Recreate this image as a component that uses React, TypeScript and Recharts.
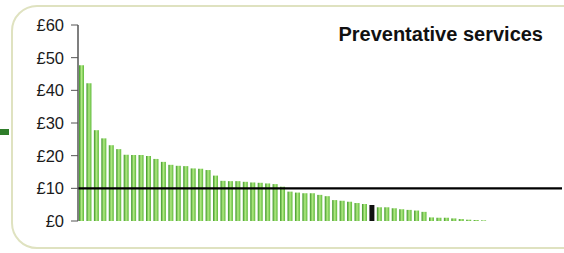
import React from 'react';
import { BarChart, Bar, XAxis, YAxis, ReferenceLine, Cell } from 'recharts';

const values: number[] = [
  47.7, 42.2, 27.8, 25.3, 23.2, 22.0, 20.3, 20.2, 20.2, 19.9,
  19.0, 18.1, 17.2, 16.9, 16.8, 16.1, 16.0, 15.6, 13.9, 12.3,
  12.2, 12.2, 12.0, 11.8, 11.7, 11.5, 11.3, 10.5, 9.0, 8.7,
  8.5, 8.5, 8.0, 7.6, 6.4, 6.2, 5.9, 5.5, 5.2, 4.9,
  4.2, 4.2, 3.9, 3.6, 3.4, 3.2, 2.8, 1.1, 1.0, 1.0,
  0.8, 0.6, 0.4, 0.3, 0.2,
];
const highlightIndex = 39;
const totalSlots = 65;
const yTicks: number[] = [0, 10, 20, 30, 40, 50, 60];
const threshold = 10;
const title = 'Preventative services';

const data = Array.from({ length: totalSlots }, (_, i) => ({
  name: `a${i + 1}`,
  value: i < values.length ? values[i] : null,
}));

export default function App() {
  return (
    <div style={{ position: 'absolute', left: 0, top: 0, width: 564, height: 253, background: '#fff', overflow: 'hidden' }}>
      <div
        style={{
          position: 'absolute',
          left: 11,
          top: 5,
          width: 580,
          height: 244,
          border: '2px solid #dfe2c0',
          borderRadius: 26,
          boxSizing: 'border-box',
        }}
      />
      <div style={{ position: 'absolute', left: 0, top: 129, width: 9, height: 6, background: '#2f7d2a' }} />
      <div
        style={{
          position: 'absolute',
          right: 21,
          top: 22,
          fontFamily: 'Liberation Sans, Arial, sans-serif',
          fontWeight: 'bold',
          fontSize: 20,
          lineHeight: '24px',
          color: '#111',
          whiteSpace: 'nowrap',
        }}
      >
        {title}
      </div>
      <div style={{ position: 'absolute', left: 0, top: 0 }}>
        <BarChart
          width={564}
          height={253}
          data={data}
          margin={{ top: 25, right: 2, bottom: 32, left: 0 }}
          barSize={5}
        >
          <defs>
            <linearGradient id="barGrad" x1="0" y1="0" x2="1" y2="0">
              <stop offset="0%" stopColor="#3a9424" />
              <stop offset="50%" stopColor="#b2ea84" />
              <stop offset="100%" stopColor="#5cb838" />
            </linearGradient>
          </defs>
          <XAxis
            dataKey="name"
            tick={false}
            tickLine={false}
            height={0}
            axisLine={{ stroke: '#666', strokeWidth: 1.5 }}
          />
          <YAxis
            width={78}
            domain={[0, 60]}
            ticks={yTicks}
            tickFormatter={(v: number) => `£${v}`}
            tick={{ fill: '#1a1a1a', fontSize: 16.5, fontFamily: 'Liberation Sans, Arial, sans-serif' }}
            tickSize={7}
            tickMargin={7}
            tickLine={{ stroke: '#555' }}
            axisLine={{ stroke: '#555', strokeWidth: 1.5 }}
          />
          <Bar dataKey="value" isAnimationActive={false}>
            {data.map((_, i) => (
              <Cell key={i} fill={i === highlightIndex ? '#111' : 'url(#barGrad)'} />
            ))}
          </Bar>
          <ReferenceLine y={threshold} stroke="#000" strokeWidth={2.2} />
        </BarChart>
      </div>
    </div>
  );
}
